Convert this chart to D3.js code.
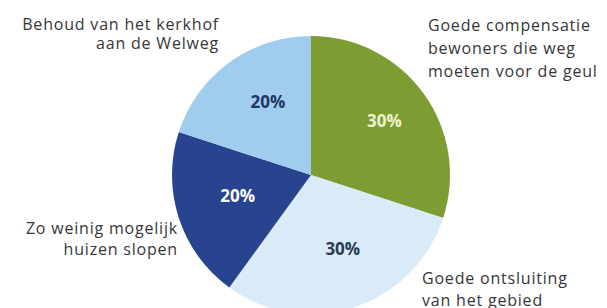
<!DOCTYPE html>
<html>
<head>
<meta charset="utf-8">
<script src="https://cdn.jsdelivr.net/npm/d3@7"></script>
<style>
  html, body { margin: 0; padding: 0; background: #fff; }
  svg { display: block; }
</style>
</head>
<body>
<div id="chart"></div>
<script>
// data (clockwise from 12 o'clock)
const categories = [
  "Goede compensatie bewoners die weg moeten voor de geul",
  "Goede ontsluiting van het gebied",
  "Zo weinig mogelijk huizen slopen",
  "Behoud van het kerkhof aan de Welweg"
];
const values = [30, 30, 20, 20];
const labelLines = [
  ["Goede compensatie", "bewoners die weg", "moeten voor de geul"],
  ["Goede ontsluiting", "van het gebied"],
  ["Zo weinig mogelijk", "huizen slopen"],
  ["Behoud van het kerkhof", "aan de Welweg"]
];
const sliceColors = ["#7d9c31", "#d8ebf7", "#28448f", "#a0cdee"];
const pctColors = ["#eef3cf", "#2a3b55", "#ffffff", "#1f3566"];

const width = 607, height = 308;
const cx = 311, cy = 175, radius = 139;

// where each category's text block sits, and how it is aligned
const labelLayout = [
  { x: 428, y: 31, anchor: "start", lh: 23 },
  { x: 422, y: 284, anchor: "start", lh: 22 },
  { x: 178, y: 234, anchor: "end", lh: 21 },
  { x: 219, y: 30, anchor: "end", lh: 19 }
];

const svg = d3.select("#chart")
  .append("svg")
  .attr("width", width)
  .attr("height", height);

const pie = d3.pie().sort(null).value(d => d);
const arcs = pie(values);

const arc = d3.arc().innerRadius(0).outerRadius(radius);
const labelArc = d3.arc().innerRadius(radius * 0.6).outerRadius(radius * 0.6);

const g = svg.append("g").attr("transform", `translate(${cx},${cy})`);

g.selectAll("path.slice")
  .data(arcs)
  .join("path")
  .attr("class", "slice")
  .attr("d", arc)
  .attr("fill", (d, i) => sliceColors[i]);

// percentages sit a little right of and above the centroid
g.selectAll("text.pct")
  .data(arcs)
  .join("text")
  .attr("class", "pct")
  .attr("transform", d => {
    const [x, y] = labelArc.centroid(d);
    return `translate(${x + 6},${y - 5})`;
  })
  .attr("text-anchor", "middle")
  .attr("dy", "0.35em")
  .attr("font-family", "'Open Sans', sans-serif")
  .attr("font-weight", "bold")
  .attr("font-size", 17)
  .attr("fill", (d, i) => pctColors[i])
  .text(d => d.value + "%");

// category labels
const labels = svg.selectAll("text.cat")
  .data(categories)
  .join("text")
  .attr("class", "cat")
  .attr("font-family", "'Open Sans', sans-serif")
  .attr("font-size", 16)
  .attr("letter-spacing", 0.8)
  .attr("fill", "#363636")
  .attr("text-anchor", (d, i) => labelLayout[i].anchor);

labels.each(function (d, i) {
  const L = labelLayout[i];
  d3.select(this).selectAll("tspan")
    .data(labelLines[i])
    .join("tspan")
    .attr("x", L.x)
    .attr("y", (t, j) => L.y + j * L.lh)
    .text(t => t);
});
</script>
</body>
</html>
